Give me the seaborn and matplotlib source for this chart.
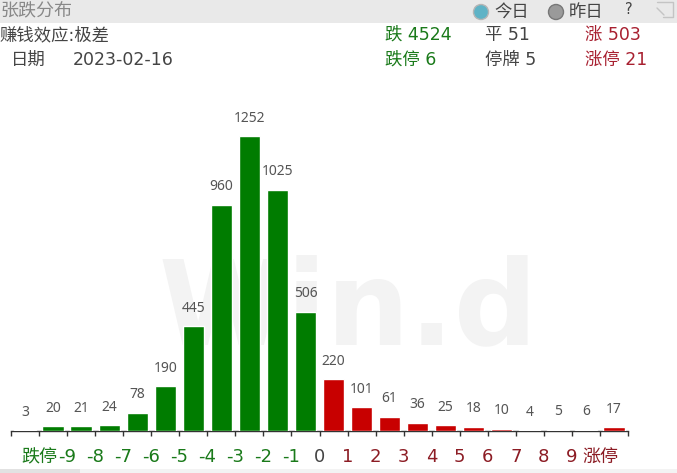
import matplotlib
matplotlib.use('Agg')
import matplotlib.pyplot as plt
from matplotlib.lines import Line2D
from matplotlib.patches import Circle, Rectangle
import pandas as pd
import seaborn as sns

sns.set_theme(style='white')
# Latin digits from DejaVu, Chinese falls through to Noto
plt.rcParams['font.family'] = ['DejaVu Sans', 'Noto Sans CJK SC']

# Values
values = [3, 20, 21, 24, 78, 190, 445, 960, 1252, 1025, 506, 220, 101, 61, 36, 25, 18, 10, 4, 5, 6, 17]
bins = ['b%d' % i for i in range(len(values))]
sides = ['down'] * 11 + ['up'] * 11
tick_labels = ['跌停', '-9', '-8', '-7', '-6', '-5', '-4', '-3', '-2', '-1', '0',
               '1', '2', '3', '4', '5', '6', '7', '8', '9', '涨停']

GREEN = '#007c00'
RED = '#c80000'
W, H = 677, 473

df = pd.DataFrame({'bin': bins, 'count': values, 'side': sides})

fig = plt.figure(figsize=(W / 100, H / 100), dpi=100, facecolor='white')


# Figure coordinates from reference pixels
def fx(x):
    return x / W


def fy(y):
    return 1 - y / H


def label(x, y, s, color='#444444', size=12.5, ha='left'):
    fig.text(fx(x), fy(y), s, color=color, fontsize=size, ha=ha, va='center', zorder=5)


# Header band and bottom strip
fig.add_artist(Rectangle((0, fy(23)), 1, 23 / H, transform=fig.transFigure, color='#e9e9e9', lw=0, zorder=-2))
fig.add_artist(Rectangle((0, 0), 1, 4 / H, transform=fig.transFigure, color='#f3f3f3', lw=0, zorder=-2))
fig.add_artist(Rectangle((0, 0), 80 / W, 4 / H, transform=fig.transFigure, color='#e2e2e2', lw=0, zorder=-2))

# Watermark sits behind the bars
fig.text(fx(348), fy(312), 'Win.d', color='#f3f3f3', fontsize=84, fontweight='bold',
         ha='center', va='center', zorder=-1)

ax = fig.add_axes([fx(11), fy(431), 617 / W, 331 / H])
ax.patch.set_alpha(0)
sns.barplot(data=df, x='bin', y='count', hue='side', palette={'down': GREEN, 'up': RED},
            dodge=False, width=0.76, saturation=1, legend=False, ax=ax)
ax.set_xlim(-0.5, len(values) - 0.5)
ax.set_ylim(0, 331 / 0.2356)
ax.set_xlabel('')
ax.set_ylabel('')
ax.set_yticks([])
for s in ['top', 'left', 'right']:
    ax.spines[s].set_visible(False)
ax.spines['bottom'].set_color('#333333')
ax.spines['bottom'].set_linewidth(1)
ax.spines['bottom'].set_zorder(0.5)

# Ticks sit between the bars, the labels belong to the inner ticks
ax.set_xticks([i - 0.5 for i in range(len(values) + 1)])
ax.set_xticklabels([''] + tick_labels + [''], fontsize=13)
ax.tick_params(axis='x', bottom=True, length=3.5, width=1, color='#333333', pad=9)
for i, t in enumerate(ax.get_xticklabels()):
    if 1 <= i <= 10:
        t.set_color('#1a7a1a')
    elif i == 11:
        t.set_color('#444444')
    else:
        t.set_color('#8c1c24')

# Value labels
for i, v in enumerate(values):
    ax.annotate(str(v), (i, v), xytext=(0, 7.5), textcoords='offset points', ha='center', va='bottom',
                fontsize=10, color='#555555', fontfamily='Noto Sans')

# Header text
label(0, 11, '张跌分布', color='#888888', size=13)
label(0, 35, '赚钱效应:极差')
label(11, 60, '日期')
label(73, 60, '2023-02-16')

label(385, 35, '跌 4524', color='#1a7a1a')
label(385, 60, '跌停 6', color='#1a7a1a')
label(485, 35, '平 51')
label(485, 60, '停牌 5')
label(585, 35, '涨 503', color='#a82030')
label(585, 60, '涨停 21', color='#a82030')

# Today / yesterday switch
fig.add_artist(Circle((481, H - 12), 7.5, transform=None, facecolor='#5fb3c6', edgecolor='#b5b5b5', lw=1, zorder=4))
fig.add_artist(Circle((556, H - 12), 7.5, transform=None, facecolor='#9a9a9a', edgecolor='#777777', lw=1, zorder=4))
label(494, 12, '今日')
label(569, 12, '昨日')
label(629, 9, '?', size=10.5, ha='center')

# Expand icon in the corner
icon_x = [657, 673, 673, 663]
icon_y = [H - 2, H - 2, H - 17, H - 17]
fig.add_artist(Line2D(icon_x, icon_y, transform=None, color='#c4c4c4', lw=1, zorder=4))
fig.add_artist(Line2D([657, 664], [H - 8, H - 15], transform=None, color='#c4c4c4', lw=1, zorder=4))

fig.savefig('out.png', dpi=100)
